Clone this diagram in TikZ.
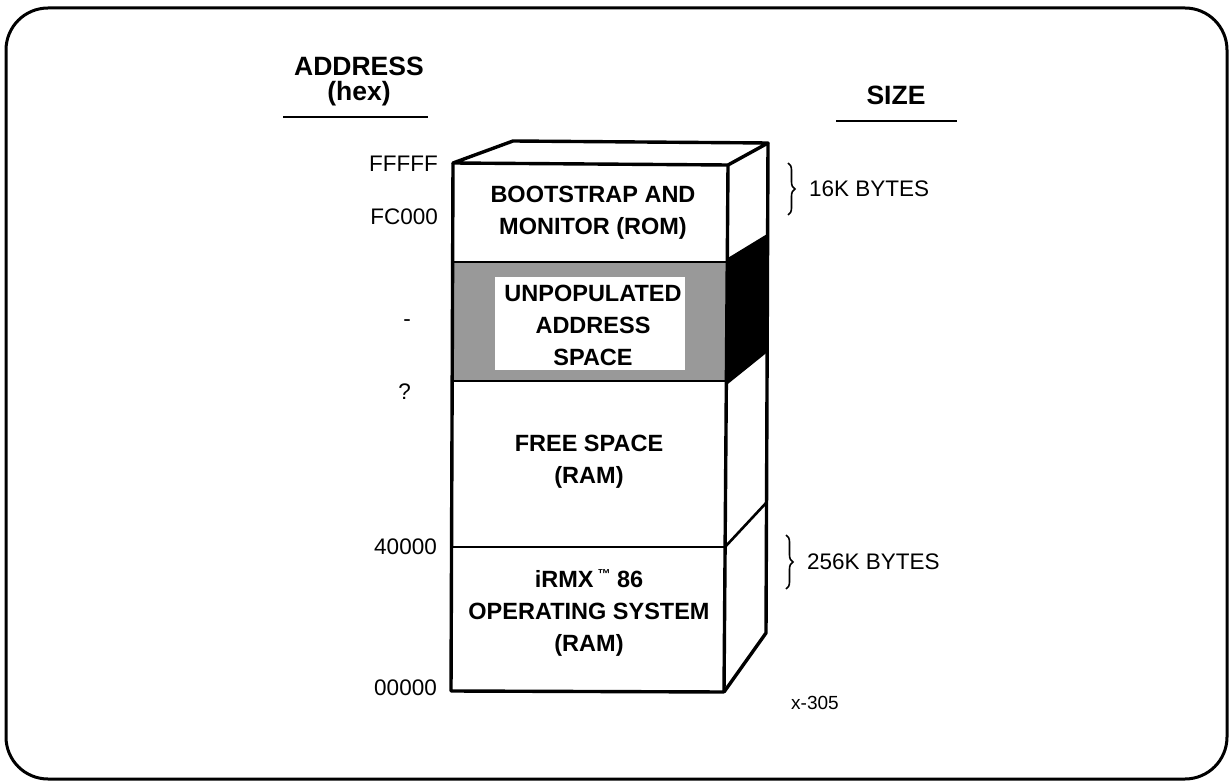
\documentclass[tikz,border=0pt]{standalone}
\usepackage{fontspec}
\setmainfont{Liberation Sans}
\usetikzlibrary{decorations.pathreplacing}
\tikzset{
  frameline/.style={line width=3pt, rounded corners=42pt},
  boxline/.style={line width=3.4pt, line join=round},
  divline/.style={line width=2.6pt},
  boxtext/.style={font=\fontsize{23.5}{32}\selectfont\bfseries, align=center, inner sep=0pt},
  addrtext/.style={font=\fontsize{22.5}{26}\selectfont, anchor=east, inner sep=0pt},
  sizetext/.style={font=\fontsize{22.5}{26}\selectfont, anchor=west, inner sep=0pt},
  headtext/.style={font=\fontsize{26.5}{28}\selectfont\bfseries, align=center, inner sep=0pt},
  bracestyle/.style={decorate, decoration={brace, amplitude=7pt}, line width=1.6pt},
  shadefill/.style={fill=black!40},
}
\begin{document}
\begin{tikzpicture}[x=1pt,y=-1pt]
\useasboundingbox (0,0) rectangle (1232,783);
% outer frame
\draw[frameline] (6,8) rectangle (1227,779);

% headings
\node[headtext] (haddr) at (359,66) {ADDRESS};
\node[headtext] (hhex) at (359,94) {(hex)};
\draw[line width=2.4pt] (283,117) -- (428,117);
\node[headtext] (hsize) at (896,95) {SIZE};
\draw[line width=2.4pt] (836,121) -- (957,121);

% shaded region on front face
\fill[shadefill] (453,262) rectangle (727,381);
\fill[white] (495,277) rectangle (685,370);
% dark region on right face
\fill[black] (727,260) -- (768,235) -- (768,350) -- (727,383) -- cycle;

% box outline
\draw[boxline] (453,163) -- (513,141) -- (768,143) -- (728,165) -- cycle;
\draw[boxline] (453,163) -- (451,691) -- (724,692) -- (728,165);
\draw[boxline] (768,143) -- (766,633) -- (724,692);

% dividers front
\draw[divline] (453,262) -- (727,262);
\draw[divline] (452,381) -- (727,381);
\draw[divline] (452,547) -- (725,547);
% dividers right face
\draw[divline] (727,260) -- (768,235);
\draw[divline] (727,383) -- (768,350);
\draw[divline] (725,547) -- (766,503);

% box texts
\node[boxtext] (rom) at (593,213) {BOOTSTRAP AND\\MONITOR (ROM)};
\node[boxtext] (unpop) at (593,325) {UNPOPULATED\\ADDRESS\\SPACE};
\node[boxtext] (free) at (589,462) {FREE SPACE\\(RAM)};
\node[boxtext] (irmx) at (589,613) {iRMX\,\raisebox{0.38em}{\fontsize{13}{13}\selectfont ™} 86\\OPERATING SYSTEM\\(RAM)};

% address labels
\node[addrtext] (afffff) at (438,164) {FFFFF};
\node[addrtext] (afc000) at (438,217) {FC000};
\node[addrtext] (adash) at (411,323) {-};
\node[addrtext] (aq) at (411,392) {?};
\node[addrtext] (a40000) at (437,547) {40000};
\node[addrtext] (a00000) at (437,688) {00000};

% size braces
\coordinate (b1t) at (788,163);
\coordinate (b1b) at (788,215);
\draw[bracestyle] (b1t) -- (b1b);
\node[sizetext] (s16k) at (809,189) {16K BYTES};
\coordinate (b2t) at (786,535);
\coordinate (b2b) at (786,589);
\draw[bracestyle] (b2t) -- (b2b);
\node[sizetext] (s256k) at (807,562) {256K BYTES};

% figure id
\node[font=\fontsize{19}{22}\selectfont, inner sep=0pt] (fid) at (815,703) {x-305};
\end{tikzpicture}
\end{document}
